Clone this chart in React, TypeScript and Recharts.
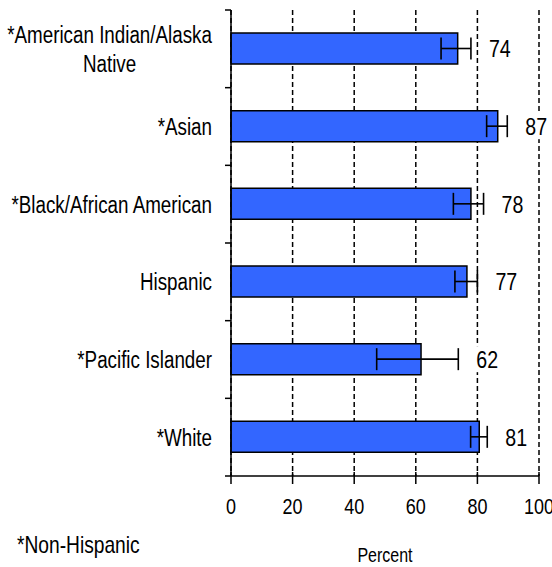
import React from 'react';
import { BarChart, Bar, XAxis, YAxis, CartesianGrid, ErrorBar, LabelList } from 'recharts';

const categories = [
  '*American Indian/Alaska Native',
  '*Asian',
  '*Black/African American',
  'Hispanic',
  '*Pacific Islander',
  '*White',
];
const percents = [73.6, 86.6, 77.9, 76.6, 61.7, 80.6];
const lowerCI = [68.2, 83.0, 72.2, 72.7, 47.3, 77.8];
const upperCI = [77.9, 89.7, 82.0, 80.0, 73.8, 83.2];
const xTicks = [0, 20, 40, 60, 80, 100];
const footnote = '*Non-Hispanic';
const axisTitle = 'Percent';

const W = 552;
const H = 567;
const MARGIN = { top: 10, right: 13, bottom: 0, left: 0 };
const Y_AXIS_W = 231;
const X_AXIS_H = 91;
const PLOT_LEFT = MARGIN.left + Y_AXIS_W;
const PLOT_RIGHT = W - MARGIN.right;
const PLOT_H = H - MARGIN.top - MARGIN.bottom - X_AXIS_H;
const BAND = PLOT_H / categories.length;

const FONT = "'Liberation Sans', Arial, sans-serif";
const SX = 0.8; // horizontal condensing to mimic Arial Narrow
const BAR_COLOR = '#3366FF';

const data = categories.map((name, i) => ({
  name,
  value: percents[i],
  err: [percents[i] - lowerCI[i], upperCI[i] - percents[i]],
  hi: upperCI[i],
}));

let measureCtx: CanvasRenderingContext2D | null = null;
function measure(text: string, size: number): number {
  if (!measureCtx) {
    const c = document.createElement('canvas');
    measureCtx = c.getContext('2d');
  }
  if (!measureCtx) return text.length * size * 0.5 * SX;
  measureCtx.font = `${size}px ${FONT}`;
  return measureCtx.measureText(text).width * SX;
}

const NText = ({ x, y, size, anchor = 'start', children }: any) => (
  <text
    transform={`translate(${x},${y}) scale(${SX},1)`}
    textAnchor={anchor}
    fontSize={size}
    fontFamily={FONT}
    fill="#000"
  >
    {children}
  </text>
);

function wrapLabel(s: string): string[] {
  if (s.length <= 25) return [s];
  const idx = s.lastIndexOf(' ');
  return [s.slice(0, idx), s.slice(idx + 1)];
}

const CAT_SIZE = 23.5;
const TICK_SIZE = 22.5;
const VAL_SIZE = 24.5;

const YTick = (props: any) => {
  const { y, payload, index } = props;
  const label: string = payload.value;
  const lines = wrapLabel(label);
  const right = PLOT_LEFT - 19;
  const isLast = index === categories.length - 1;
  const tickEls = (
    <g>
      <line x1={PLOT_LEFT - 6} x2={PLOT_LEFT} y1={y - BAND / 2} y2={y - BAND / 2} stroke="#000" strokeWidth={1.5} />
      {isLast && (
        <line x1={PLOT_LEFT - 6} x2={PLOT_LEFT} y1={y + BAND / 2} y2={y + BAND / 2} stroke="#000" strokeWidth={1.5} />
      )}
    </g>
  );
  if (lines.length === 1) {
    return (
      <g>
        {tickEls}
        <NText x={right} y={y + 8.5} size={CAT_SIZE} anchor="end">{label}</NText>
      </g>
    );
  }
  const w1 = measure(lines[0], CAT_SIZE);
  const cx = right - w1 / 2;
  return (
    <g>
      {tickEls}
      <NText x={cx} y={y - 5.75} size={CAT_SIZE} anchor="middle">{lines[0]}</NText>
      <NText x={cx} y={y + 23.25} size={CAT_SIZE} anchor="middle">{lines[1]}</NText>
    </g>
  );
};

const XTick = (props: any) => {
  const { x, y, payload } = props;
  return (
    <g>
      <line x1={x} x2={x} y1={y - 26} y2={y - 22} stroke="#000" strokeWidth={1.5} />
      <NText x={x} y={y + 16} size={TICK_SIZE} anchor="middle">{String(payload.value)}</NText>
    </g>
  );
};

const renderValueLabel = (props: any) => {
  const { x, y, width, height, value, index } = props;
  const d = data[index] ?? data.find((r) => r.value === value);
  if (!d) return null;
  const hiPx = x + (width * d.hi) / d.value;
  const text = String(Math.round(d.value));
  const lx = hiPx + 18;
  const cy = y + height / 2;
  const tw = measure(text, VAL_SIZE);
  return (
    <g>
      <rect x={lx - 2} y={cy - 13} width={tw + 4} height={26} fill="#fff" />
      <NText x={lx} y={cy + 8.7} size={VAL_SIZE}>{text}</NText>
    </g>
  );
};

export default function App() {
  return (
    <div style={{ position: 'absolute', left: 0, top: 0, width: W, height: H, background: '#fff' }}>
      <BarChart width={W} height={H} data={data} layout="vertical" margin={MARGIN}>
        <CartesianGrid horizontal={false} vertical stroke="#000" strokeWidth={1.5} strokeDasharray="5 3" />
        <XAxis
          type="number"
          domain={[0, 100]}
          ticks={xTicks}
          height={X_AXIS_H}
          axisLine={{ stroke: '#000', strokeWidth: 1.5 }}
          tickLine={{ stroke: '#000', strokeWidth: 1.5 }}
          tickSize={8}
          tickMargin={14}
          tick={<XTick />}
          interval={0}
        />
        <YAxis
          type="category"
          dataKey="name"
          width={Y_AXIS_W}
          axisLine={{ stroke: '#000', strokeWidth: 1.5 }}
          tickLine={false}
          tick={<YTick />}
          interval={0}
        />
        <Bar dataKey="value" fill={BAR_COLOR} stroke="#000" strokeWidth={1.5} barSize={31} isAnimationActive={false}>
          <ErrorBar dataKey="err" direction="x" width={11} stroke="#000" strokeWidth={1.6} />
          <LabelList dataKey="value" content={renderValueLabel} />
        </Bar>
      </BarChart>
      <svg width={W} height={H} style={{ position: 'absolute', left: 0, top: 0, pointerEvents: 'none' }}>
        <NText x={17} y={553} size={24}>{footnote}</NText>
        <NText x={(PLOT_LEFT + PLOT_RIGHT) / 2} y={562} size={20} anchor="middle">{axisTitle}</NText>
      </svg>
    </div>
  );
}
